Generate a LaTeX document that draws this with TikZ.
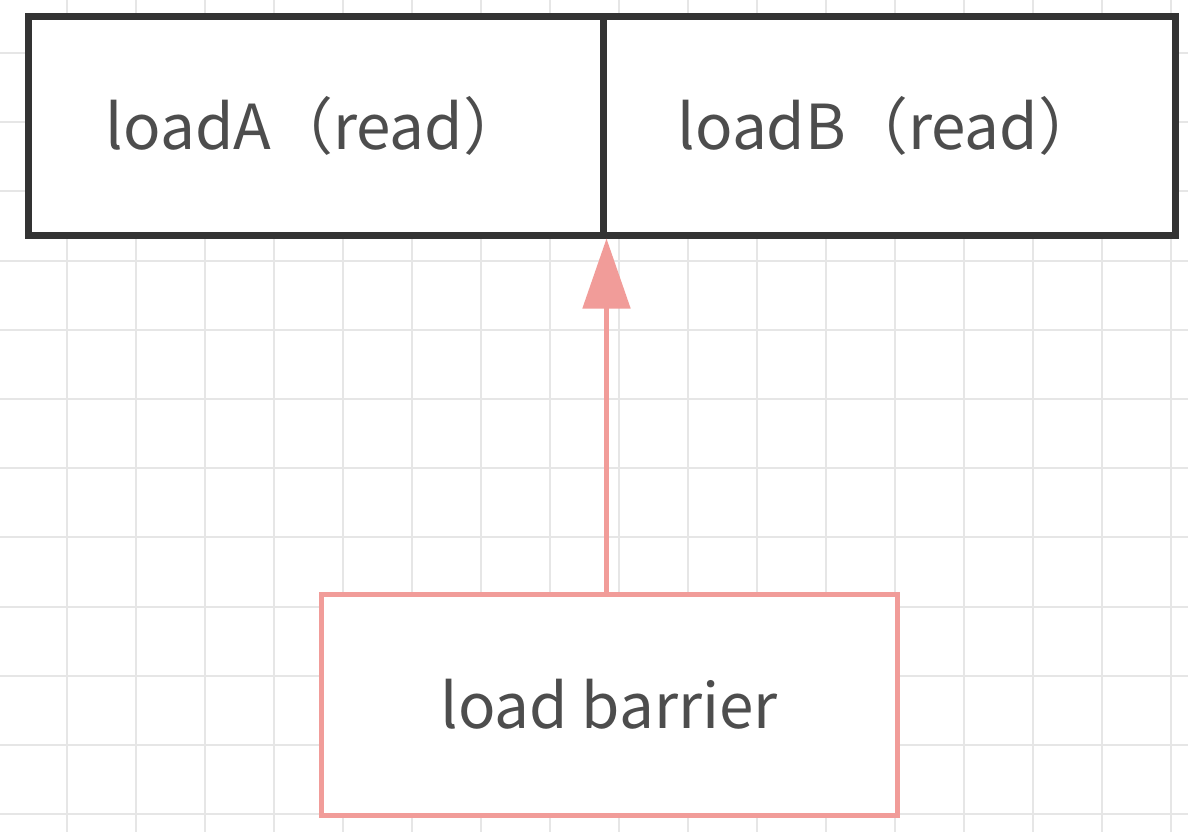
\documentclass[tikz,border=0pt]{standalone}
\usepackage{fontspec}
\setmainfont{Noto Sans CJK SC}
\usetikzlibrary{arrows.meta}
\definecolor{gridc}{HTML}{E6E6E6}
\definecolor{boxc}{HTML}{333333}
\definecolor{pinkc}{HTML}{F19C99}
\definecolor{txtc}{HTML}{4D4D4D}
\begin{document}
\begin{tikzpicture}[x=0.5pt,y=-0.5pt,
  cell/.style={draw=boxc, line width=3.5pt, fill=white, minimum height=109.5pt,
    inner sep=0pt, text=txtc, font=\fontsize{31}{36}\selectfont},
  barrierbox/.style={draw=pinkc, line width=2.5pt, fill=white, minimum width=288pt,
    minimum height=110.5pt, inner sep=0pt, text=txtc, font=\fontsize{31}{36}\selectfont},
  gridline/.style={draw=gridc, line width=1pt},
  conn/.style={draw=pinkc, line width=2.5pt, -{Triangle[length=35pt,width=23.5pt]}}]
\useasboundingbox (0,0) rectangle (1188,832);
\fill[white] (0,0) rectangle (1188,832);
\foreach \i in {-1,...,16} \draw[gridline] ({67+69*\i},0) -- ({67+69*\i},832);
\foreach \j in {-1,...,11} \draw[gridline] (0,{53+69.2*\j}) -- (1188,{53+69.2*\j});
\node[cell, minimum width=287.5pt] (la) at (315.5,125.5) {loadA（read）};
\node[cell, minimum width=286pt] (lb) at (889,125.5) {loadB（read）};
\node[barrierbox] (lbar) at (609,704.5) {load barrier};
\draw[conn] (la.south east |- lbar.north) -- (la.south east);
\end{tikzpicture}
\end{document}
